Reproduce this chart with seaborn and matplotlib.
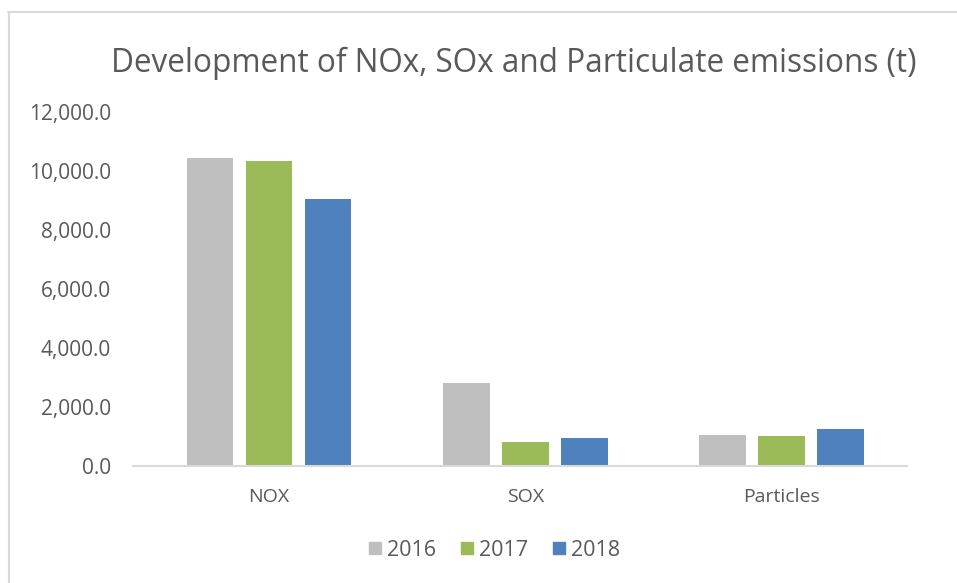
import matplotlib
matplotlib.use("Agg")
import matplotlib.pyplot as plt
from matplotlib.lines import Line2D
from matplotlib.ticker import FuncFormatter
import pandas as pd
import seaborn as sns

# Emissions in tonnes per pollutant and year
categories = ["NOX", "SOX", "Particles"]
years = ["2016", "2017", "2018"]
values_2016 = [10430, 2800, 1060]
values_2017 = [10330, 800, 1020]
values_2018 = [9060, 940, 1240]
colors = ["#BFBFBF", "#9BBB59", "#4F81BD"]
title = "Development of NOx, SOx and Particulate emissions (t)"

rows = []
for year, vals in zip(years, [values_2016, values_2017, values_2018]):
    for cat, v in zip(categories, vals):
        rows.append({"pollutant": cat, "year": year, "tonnes": v})
df = pd.DataFrame(rows)

sns.set_theme(style="white")
plt.rcParams["font.family"] = ["Open Sans", "DejaVu Sans"]
text_color = "#595959"

fig = plt.figure(figsize=(9.57, 5.83), dpi=100)
ax = fig.add_axes([0.139, 0.2007, 0.809, 0.6073])

sns.barplot(data=df, x="pollutant", y="tonnes", hue="year",
            palette=colors, order=categories, hue_order=years,
            width=0.69, gap=0.21, saturation=1, errorbar=None,
            linewidth=0, legend=False, ax=ax)

ax.set_ylim(0, 12000)
ax.set_yticks(range(0, 12001, 2000))
ax.yaxis.set_major_formatter(FuncFormatter(lambda v, p: f"{v:,.1f}"))
ax.set_xlim(-0.53, 2.49)
ax.set_xlabel("")
ax.set_ylabel("")
for side in ["top", "right", "left"]:
    ax.spines[side].set_visible(False)
ax.spines["bottom"].set_color("#D9D9D9")
ax.spines["bottom"].set_linewidth(1.5)
ax.tick_params(axis="y", length=0, pad=16, labelsize=15, labelcolor=text_color)
ax.tick_params(axis="x", length=0, pad=16, labelsize=14, labelcolor=text_color)
ax.grid(False)

fig.text(514 / 957, 1 - 63 / 583, title, ha="center", va="center",
         fontsize=22.7, color=text_color)

handles = [Line2D([0], [0], marker="s", linestyle="none", markersize=9,
                  markerfacecolor=c, markeredgecolor=c) for c in colors]
fig.legend(handles, years, loc="center", bbox_to_anchor=(493 / 957, 1 - 550 / 583),
           ncol=3, frameon=False, fontsize=15.5, labelcolor=text_color,
           handletextpad=0.1, columnspacing=1.0, handlelength=0.9)

# chart area outline
fig.add_artist(Line2D([8 / 957, 1.0], [1 - 12 / 583, 1 - 12 / 583],
                      transform=fig.transFigure, color="#D9D9D9", linewidth=1.5))
fig.add_artist(Line2D([9 / 957, 9 / 957], [0.0, 1 - 12 / 583],
                      transform=fig.transFigure, color="#D9D9D9", linewidth=1.5))

fig.savefig("out.png", dpi=100, facecolor="white")
